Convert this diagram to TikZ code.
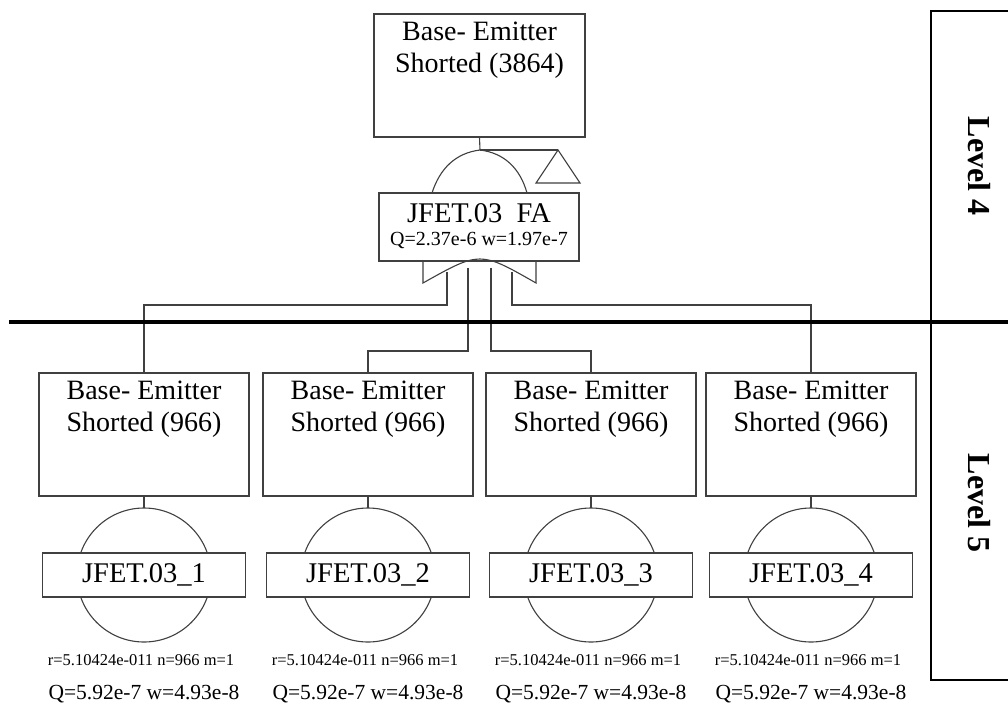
\documentclass[tikz,border=0pt]{standalone}
\usepackage{fontspec}
\setmainfont{Liberation Serif}
\begin{document}
\begin{tikzpicture}[x=1pt,y=-1pt,
  ln/.style={draw=black!75, line width=1.1pt},
  evbox/.style={ln, minimum width=210pt, minimum height=123pt, inner sep=0pt},
  lblbox/.style={ln, fill=white, minimum width=203pt, minimum height=44pt, inner sep=0pt,
     font=\fontsize{28.5}{30}\selectfont},
  boxtxt/.style={align=center, font=\fontsize{28}{32}\selectfont, inner sep=0pt},
  smalltxt/.style={font=\fontsize{16.5}{18}\selectfont, inner sep=0pt},
  qtxt/.style={font=\fontsize{21.5}{24}\selectfont, inner sep=0pt},
  heavy/.style={draw=black, line width=2.5pt},
  leveltxt/.style={rotate=-90, font=\bfseries\fontsize{32}{36}\selectfont, inner sep=0pt}
]
\useasboundingbox (0,0) rectangle (1008,704);
\fill[white] (0,0) rectangle (1008,704);

% top event
\node[evbox, minimum width=211pt] (top) at (479.5,75.5) {};
\node[boxtxt] (toptxt) at (479.5,50) {Base- Emitter\\Shorted (3864)};

% OR gate (upper part)
\coordinate (gApex) at (480,150);
\draw[ln] (432,193) .. controls (440,168) and (456,153) .. (gApex)
          .. controls (504,153) and (520,168) .. (527,193);
\draw[ln] (top.south) -- (gApex);

% transfer triangle
\coordinate (triApex) at (558,150);
\draw[ln] (gApex) -- (triApex);
\draw[ln] (triApex) -- (580,183) -- (536,183) -- cycle;

% gate label box
\node[lblbox, minimum width=200pt, minimum height=68pt] (gate) at (479,227) {};
\node[inner sep=0pt, font=\fontsize{28.5}{30}\selectfont] (gname) at (479,213) {JFET.03\ \ FA};
\node[inner sep=0pt, font=\fontsize{20}{22}\selectfont] (gq) at (479,240) {Q=2.37e-6 w=1.97e-7};

% gate base
\draw[ln] (423,261) -- (423,283) .. controls (480,251) .. (536,283) -- (536,261);
\coordinate (o1) at (447,272.3);
\coordinate (o2) at (468,267.7);
\coordinate (o3) at (491,267.7);
\coordinate (o4) at (512,272.3);

% children
\foreach \i/\cx in {1/144,2/368,3/591,4/811}{
  \node[evbox] (b\i) at (\cx,434.5) {};
  \node[boxtxt] (bt\i) at (\cx,409) {Base- Emitter\\Shorted (966)};
  \draw[ln] (\cx,575) circle (67);
  \coordinate (c\i) at (\cx,508);
  \draw[ln] (b\i.south) -- (c\i);
  \node[lblbox] (l\i) at (\cx,575) {JFET.03\_\i};
  \node[smalltxt] (r\i) at (\cx-3,660) {r=5.10424e-011 n=966 m=1};
  \node[qtxt] (q\i) at (\cx,694) {Q=5.92e-7 w=4.93e-8};
}

% connectors gate -> children
\draw[ln] (o1) -- (447,305) -| (b1.north);
\draw[ln] (o2) -- (468,351) -| (b2.north);
\draw[ln] (o3) -- (491,351) -| (b3.north);
\draw[ln] (o4) -- (512,305) -| (b4.north);

% level separators
\draw[line width=4pt] (9,322) -- (1008,322);
\draw[heavy] (1008,11) -- (931,11) -- (931,680) -- (1008,680);
\node[leveltxt] (lev4) at (979,166) {Level 4};
\node[leveltxt] (lev5) at (979,503) {Level 5};
\end{tikzpicture}
\end{document}
